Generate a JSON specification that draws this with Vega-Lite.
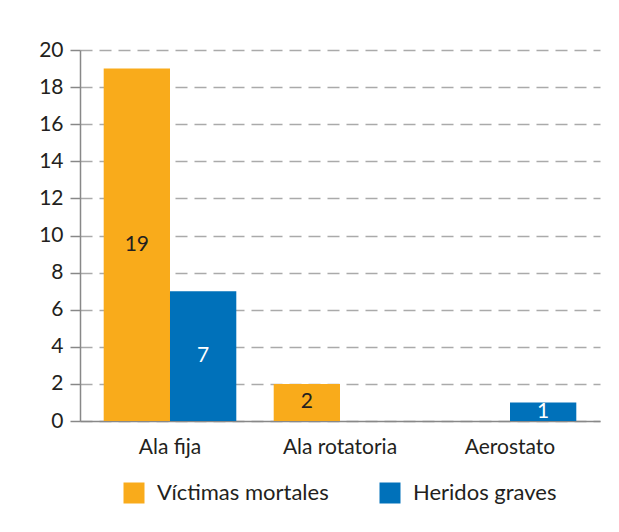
{
  "$schema": "https://vega.github.io/schema/vega-lite/v6.json",
  "width": 520,
  "height": 371,
  "padding": {"left": 38, "top": 39, "right": 19, "bottom": 5},
  "background": "white",
  "data": {"values": [
    {"tipo": "Ala fija", "serie": "Víctimas mortales", "valor": 19},
    {"tipo": "Ala fija", "serie": "Heridos graves", "valor": 7},
    {"tipo": "Ala rotatoria", "serie": "Víctimas mortales", "valor": 2},
    {"tipo": "Aerostato", "serie": "Heridos graves", "valor": 1}
  ]},
  "transform": [{"calculate": "datum.valor / 2", "as": "mitad"}],
  "encoding": {
    "x": {"field": "tipo", "type": "nominal", "sort": ["Ala fija", "Ala rotatoria", "Aerostato"],
      "scale": {"paddingInner": 0.22, "paddingOuter": 0.1394},
      "axis": {"title": null, "labelAngle": 0, "ticks": false, "domain": true, "domainColor": "#888888", "domainWidth": 1.5, "labelPadding": 15}},
    "xOffset": {"field": "serie", "type": "nominal", "scale": {"domain": ["Víctimas mortales", "Heridos graves"]}}
  },
  "layer": [
    {
      "mark": {"type": "bar"},
      "encoding": {
        "y": {"field": "valor", "type": "quantitative", "title": null, "scale": {"domain": [0, 20]}},
        "color": {"field": "serie", "type": "nominal",
          "scale": {"domain": ["Víctimas mortales", "Heridos graves"], "range": ["#F9AB1B", "#0071BA"]},
          "legend": {"title": null, "orient": "bottom", "direction": "horizontal", "symbolType": "square", "symbolSize": 441, "symbolStrokeWidth": 0, "symbolOpacity": 1, "labelFont": "Lato", "labelFontSize": 22, "labelLimit": 400, "labelColor": "#231F20", "columnPadding": 50, "labelOffset": 12, "offset": 25}}
      }
    },
    {
      "mark": {"type": "text", "font": "Lato", "fontSize": 21, "baseline": "middle"},
      "encoding": {
        "y": {"field": "mitad", "type": "quantitative", "title": null},
        "text": {"field": "valor", "type": "quantitative"},
        "color": {"condition": {"test": "datum.serie === 'Heridos graves'", "value": "white"}, "value": "#231F20"}
      }
    }
  ],
  "config": {
    "view": {"stroke": null},
    "legend": {"layout": {"bottom": {"anchor": "middle"}}},
    "axis": {"labelFont": "Lato", "labelFontSize": 21, "labelColor": "#231F20"},
    "axisY": {"values": [0,2,4,6,8,10,12,14,16,18,20], "labelOverlap": false, "grid": true, "gridDash": [12, 7], "gridColor": "#aaaaaa", "gridWidth": 1.5, "domainColor": "#888888", "domainWidth": 1.5, "tickColor": "#888888", "tickSize": 10, "tickWidth": 1.5, "labelPadding": 7}
  }
}
